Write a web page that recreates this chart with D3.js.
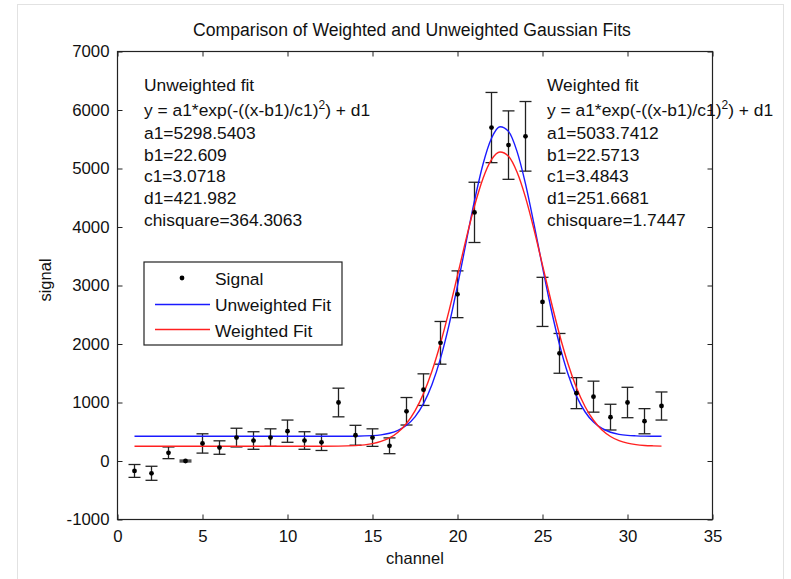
<!DOCTYPE html>
<html>
<head>
<meta charset="utf-8">
<script src="https://cdn.jsdelivr.net/npm/d3@7"></script>
<style>
	body { margin: 0; background: #fff; }
	text { font-family: "Liberation Sans", Arial, sans-serif; fill: #111; }
</style>
</head>
<body>
<svg id="chart"></svg>
<script>
var width = 791;
var height = 579;

// measured data, one value per channel
var channels = [1, 2, 3, 4, 5, 6, 7, 8, 9, 10, 11, 12, 13, 14, 15, 16,
	17, 18, 19, 20, 21, 22, 23, 24, 25, 26, 27, 28, 29, 30, 31, 32];
var signal = [-170, -210, 140, 0, 300, 230, 400, 350, 400, 510, 350, 320, 1000, 440, 400, 260,
	850, 1220, 2020, 2850, 4250, 5700, 5400, 5550, 2720, 1840, 1160, 1100, 750, 1000, 680, 940];
var signalErr = [110, 120, 100, 15, 165, 115, 160, 150, 150, 190, 150, 140, 245, 170, 150, 135,
	235, 270, 365, 400, 515, 600, 585, 595, 420, 340, 265, 265, 220, 260, 215, 240];

// fit curves
var fitX = [1, 12, 14, 15, 15.5, 16, 16.5, 17, 17.5, 18, 18.5, 19, 19.5, 20, 20.5, 21, 21.5, 22, 22.5,
	23, 23.5, 24, 24.5, 25, 25.5, 26, 26.5, 27, 27.5, 28, 28.5, 29, 29.5, 30, 30.5, 31, 31.5, 32];
var unweightedFit = [422, 422, 424, 433, 447, 474, 523, 611, 755, 980, 1307, 1754, 2324, 2998, 3729, 4449, 5073, 5516, 5714,
	5635, 5293, 4738, 4049, 3313, 2607, 1989, 1487, 1109, 842, 665, 556, 492, 456, 438, 430, 425, 423, 422];
var weightedFit = [252, 252, 263, 296, 334, 395, 493, 642, 857, 1152, 1537, 2012, 2566, 3172, 3787, 4359, 4831, 5152, 5283,
	5210, 4940, 4507, 3957, 3348, 2735, 2163, 1663, 1252, 932, 696, 530, 419, 348, 305, 280, 266, 259, 255];

var xTicks = [0, 5, 10, 15, 20, 25, 30, 35];
var yTicks = [-1000, 0, 1000, 2000, 3000, 4000, 5000, 6000, 7000];

var unweightedText = ["Unweighted fit", "y = a1*exp(-((x-b1)/c1)", "a1=5298.5403", "b1=22.609",
	"c1=3.0718", "d1=421.982", "chisquare=364.3063"];
var weightedText = ["Weighted fit", "y = a1*exp(-((x-b1)/c1)", "a1=5033.7412", "b1=22.5713",
	"c1=3.4843", "d1=251.6681", "chisquare=1.7447"];

var plot = { left: 117.5, right: 712.5, top: 51.5, bottom: 519.5 };

var svg = d3.select("#chart")
	.attr("width", width)
	.attr("height", height);

// faint frame of the figure window
svg.append("rect")
	.attr("x", 17.5).attr("y", 4.5)
	.attr("width", 766).attr("height", 600)
	.attr("fill", "#fff")
	.attr("stroke", "#e2e2e2");

var x = d3.scaleLinear().domain([0, 35]).range([plot.left, plot.right]);
var y = d3.scaleLinear().domain([-1000, 7000]).range([plot.bottom, plot.top]);

var plain = d => String(d);

// axes, ticks pointing inward like matlab
function styleAxis(g) {
	g.select(".domain").remove();
	g.selectAll(".tick line").attr("stroke", "#222");
	g.selectAll(".tick text").attr("fill", "#111").style("font-size", "16.8px");
}

svg.append("g")
	.attr("transform", "translate(0," + plot.bottom + ")")
	.call(d3.axisBottom(x).tickValues(xTicks).tickSize(-5).tickPadding(11).tickFormat(plain))
	.call(styleAxis);

svg.append("g")
	.attr("transform", "translate(0," + plot.top + ")")
	.call(d3.axisTop(x).tickValues(xTicks).tickSize(-5).tickFormat(""))
	.call(styleAxis);

svg.append("g")
	.attr("transform", "translate(" + plot.left + ",0)")
	.call(d3.axisLeft(y).tickValues(yTicks).tickSize(-5).tickPadding(8).tickFormat(plain))
	.call(styleAxis);

svg.append("g")
	.attr("transform", "translate(" + plot.right + ",0)")
	.call(d3.axisRight(y).tickValues(yTicks).tickSize(-5).tickFormat(""))
	.call(styleAxis);

svg.append("rect")
	.attr("x", plot.left).attr("y", plot.top)
	.attr("width", plot.right - plot.left)
	.attr("height", plot.bottom - plot.top)
	.attr("fill", "none")
	.attr("stroke", "#222")
	.attr("stroke-width", 1.2);

// labels
svg.append("text")
	.attr("x", 412)
	.attr("y", 36)
	.attr("text-anchor", "middle")
	.style("font-size", "17.6px")
	.text("Comparison of Weighted and Unweighted Gaussian Fits");

svg.append("text")
	.attr("x", (plot.left + plot.right) / 2)
	.attr("y", 564)
	.attr("text-anchor", "middle")
	.style("font-size", "16.5px")
	.text("channel");

svg.append("text")
	.attr("transform", "translate(51," + 280 + ") rotate(-90)")
	.attr("text-anchor", "middle")
	.style("font-size", "16.5px")
	.text("signal");

// fit lines
var pts = fitX.map(function (d, i) { return i; });

var lineU = d3.line()
	.x(i => x(fitX[i]))
	.y(i => y(unweightedFit[i]))
	.curve(d3.curveMonotoneX);
var lineW = d3.line()
	.x(i => x(fitX[i]))
	.y(i => y(weightedFit[i]))
	.curve(d3.curveMonotoneX);

// error bars
var bars = svg.append("g").attr("stroke", "#222").attr("stroke-width", 1.3);
channels.forEach(function (c, i) {
	var lo = y(signal[i] - signalErr[i]);
	var hi = y(signal[i] + signalErr[i]);
	bars.append("line").attr("x1", x(c)).attr("x2", x(c)).attr("y1", lo).attr("y2", hi);
	bars.append("line").attr("x1", x(c) - 6).attr("x2", x(c) + 6).attr("y1", lo).attr("y2", lo);
	bars.append("line").attr("x1", x(c) - 6).attr("x2", x(c) + 6).attr("y1", hi).attr("y2", hi);
});

svg.append("path")
	.data([pts])
	.attr("fill", "none")
	.attr("stroke", "#1a1aff")
	.attr("stroke-width", 1.4)
	.attr("d", lineU);

svg.append("path")
	.data([pts])
	.attr("fill", "none")
	.attr("stroke", "#ff2020")
	.attr("stroke-width", 1.4)
	.attr("d", lineW);

svg.append("g")
	.selectAll("circle")
	.data(channels)
	.enter()
	.append("circle")
	.attr("cx", d => x(d))
	.attr("cy", (d, i) => y(signal[i]))
	.attr("r", 2.4)
	.attr("fill", "#000");

// fit annotations
var lineYs = [91, 116, 138.5, 160.5, 182, 204, 226];
function annotate(lines, xPos) {
	lines.forEach(function (t, i) {
		var txt = svg.append("text")
			.attr("x", xPos)
			.attr("y", lineYs[i])
			.style("font-size", "17.4px")
			.text(t);
		if (i == 1) {
			txt.append("tspan").attr("dy", -7).style("font-size", "12px").text("2");
			txt.append("tspan").attr("dy", 7).text(") + d1");
		}
	});
}
annotate(unweightedText, 144);
annotate(weightedText, 547);

// legend
var leg = svg.append("g");
leg.append("rect")
	.attr("x", 144).attr("y", 262)
	.attr("width", 198).attr("height", 83)
	.attr("fill", "#fff")
	.attr("stroke", "#222")
	.attr("stroke-width", 1.2);
leg.append("circle").attr("cx", 182).attr("cy", 278).attr("r", 2.4).attr("fill", "#000");
leg.append("line").attr("x1", 155).attr("x2", 210).attr("y1", 304.5).attr("y2", 304.5)
	.attr("stroke", "#1a1aff").attr("stroke-width", 1.4);
leg.append("line").attr("x1", 155).attr("x2", 210).attr("y1", 329.5).attr("y2", 329.5)
	.attr("stroke", "#ff2020").attr("stroke-width", 1.4);
var legendLabels = ["Signal", "Unweighted Fit", "Weighted Fit"];
legendLabels.forEach(function (t, i) {
	leg.append("text")
		.attr("x", 215)
		.attr("y", 284.5 + i * 26)
		.style("font-size", "17.4px")
		.text(t);
});
</script>
</body>
</html>
